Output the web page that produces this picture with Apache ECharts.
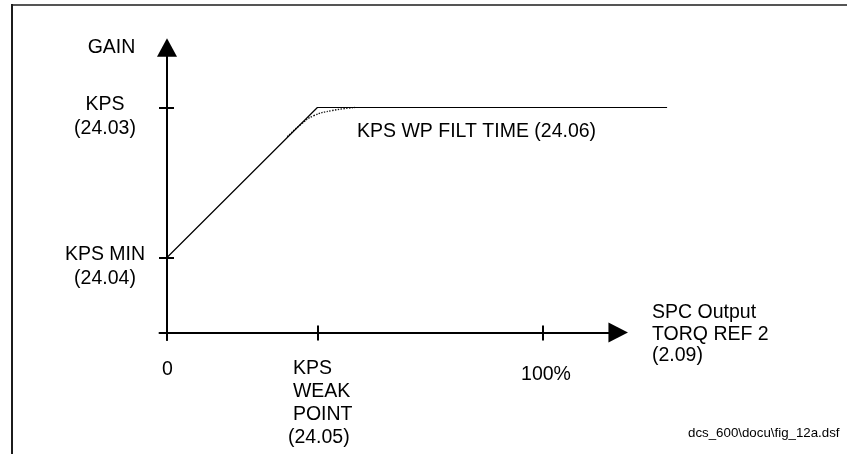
<!DOCTYPE html>
<html><head><meta charset="utf-8">
<script src="https://cdn.jsdelivr.net/npm/echarts/dist/echarts.min.js"></script>
<style>html,body{margin:0;padding:0;background:#fff}#c{width:847px;height:454px}</style>
</head><body><div id="c"></div>
<script>
// ---- data ----
const gainLevels = [1, 3];                       // KPS MIN, KPS
const yTickLabels = ['KPS MIN\n(24.04)', 'KPS\n(24.03)'];
const xTicks = [0, 40, 100];                     // 0, KPS weak point, 100 %
const xTickLabels = ['0', 'KPS\nWEAK\nPOINT\n(24.05)', '100%'];
const gainX = [0, 40, 133];
const gainY = [1, 3, 3];
const filtX = [32, 35.5, 39, 44, 50];
const filtY = [2.61, 2.77, 2.89, 2.96, 3.0];
const yAxisTitle = 'GAIN';
const xAxisTitle = 'SPC Output\nTORQ REF 2\n(2.09)';
const filtLabel = 'KPS WP FILT TIME (24.06)';
const footer = 'dcs_600\\docu\\fig_12a.dsf';

// ---- chart ----
const FONT = '"Liberation Sans", Arial, sans-serif';
const AX = {color: '#000', width: 2};
const PXU = 3.76;           // px per x unit (same in both grids)
const chart = echarts.init(document.getElementById('c'), null, {renderer: 'canvas'});
const xBase = {type: 'value', gridIndex: 0, min: -2, max: 120, position: 'bottom', offset: -7.5,
  axisLabel: {show: false}, splitLine: {show: false}};
const yBase = {type: 'value', gridIndex: 0, min: -0.1, max: 3.8, position: 'left', offset: -7.52,
  axisLabel: {show: false}, splitLine: {show: false}};
chart.setOption({
  animation: false,
  grid: [
    {left: 159.48, top: 47.5, width: 122 * PXU, height: 292.5, containLabel: false},
    {left: 159.48, top: 47.5, width: 167 * PXU, height: 292.5, containLabel: false}
  ],
  xAxis: [
    Object.assign({}, xBase, {axisLine: {onZero: false, lineStyle: AX, symbol: ['none', 'triangle'], symbolSize: [20, 19.5]},
      axisTick: {customValues: xTicks, length: 8, lineStyle: AX}}),
    Object.assign({}, xBase, {axisLine: {show: false, onZero: false},
      axisTick: {customValues: xTicks, inside: true, length: 7, lineStyle: AX}}),
    {type: 'value', gridIndex: 1, min: -2, max: 165, show: false}
  ],
  yAxis: [
    Object.assign({}, yBase, {axisLine: {onZero: false, lineStyle: AX, symbol: ['none', 'triangle'], symbolSize: [20, 18.5]},
      axisTick: {customValues: gainLevels, length: 8, lineStyle: AX}}),
    Object.assign({}, yBase, {axisLine: {show: false, onZero: false},
      axisTick: {customValues: gainLevels, inside: true, length: 7, lineStyle: AX}}),
    {type: 'value', gridIndex: 1, min: -0.1, max: 3.8, show: false}
  ],
  series: [
    {type: 'line', xAxisIndex: 2, yAxisIndex: 2, symbol: 'none', clip: false, z: 3,
      data: gainX.map((x, i) => [x, gainY[i]]), lineStyle: {color: '#000', width: 1.2}},
    {type: 'line', xAxisIndex: 2, yAxisIndex: 2, symbol: 'none', clip: false, smooth: true, z: 2,
      data: filtX.map((x, i) => [x, filtY[i]]), lineStyle: {color: '#111', width: 1.4, type: 'dotted'}}
  ]
});

const px = v => chart.convertToPixel({xAxisIndex: 0}, v);
const py = v => chart.convertToPixel({yAxisIndex: 0}, v);
const F = 19.5;
function txt(text, x, y, align, vAlign, size, lh) {
  return {type: 'text', x: x, y: y, silent: true, z: 10,
    style: {text: text, fill: '#000', font: (size || F) + 'px ' + FONT,
      align: align, verticalAlign: vAlign, lineHeight: lh || 24}};
}
const g = [];
// frame
g.push({type: 'line', shape: {x1: 11, y1: 5, x2: 847, y2: 5}, style: {stroke: '#555', lineWidth: 2}, silent: true});
g.push({type: 'line', shape: {x1: 12, y1: 4, x2: 12, y2: 454}, style: {stroke: '#1c1c1c', lineWidth: 2}, silent: true});
// y tick labels
gainLevels.forEach((v, i) => g.push(txt(yTickLabels[i], 105, py(v) - 14.5, 'center', 'top', F, 24)));
// x tick labels
const y0 = py(0);
g.push(txt(xTickLabels[0], px(xTicks[0]) + 0.5, y0 + 26, 'center', 'top', F, 23));
xTickLabels[1].split('\n').forEach((line, k) => {
  const dx = line.charAt(0) === '(' ? -29.5 : -24.5;
  g.push(txt(line, px(xTicks[1]) + dx, y0 + 24 + k * 23.3, 'left', 'top', F, 23.3));
});
g.push(txt(xTickLabels[2], px(xTicks[2]) + 3, y0 + 31, 'center', 'top', F, 23));
// titles & annotations
g.push(txt(yAxisTitle, 111.5, 48, 'center', 'middle', F, 24));
g.push(txt(xAxisTitle, 652, 302.3, 'left', 'top', F, 21.5));
g.push(txt(filtLabel, 357, 131.7, 'left', 'middle', F, 24));
g.push(txt(footer, 688, 433, 'left', 'middle', 13.3, 16));
chart.setOption({graphic: g});
</script></body></html>
